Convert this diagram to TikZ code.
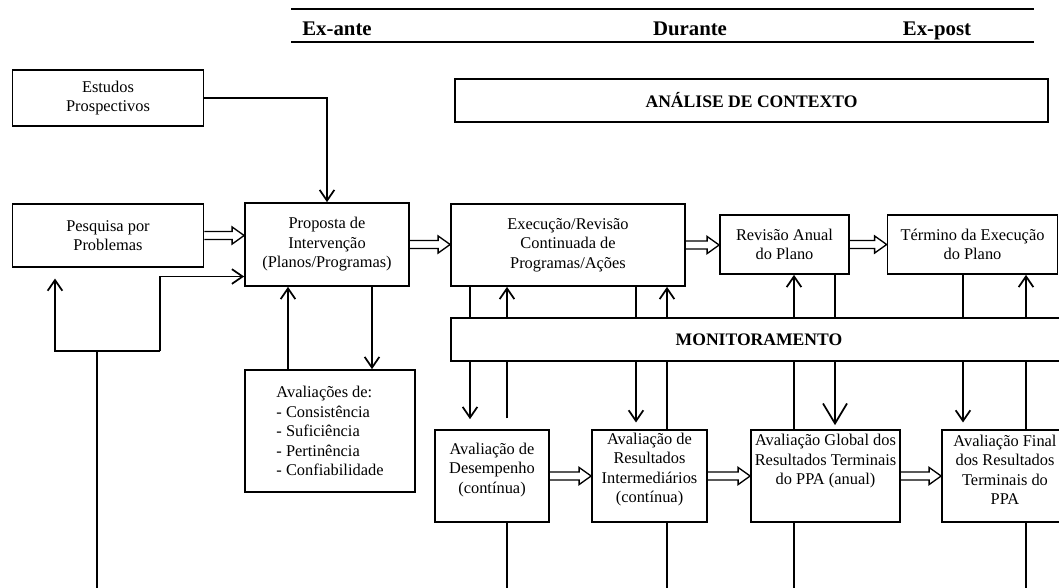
\documentclass[tikz,border=0pt]{standalone}
\usepackage{fontspec}
\setmainfont{Liberation Serif}
\usetikzlibrary{arrows.meta,calc}

\begin{document}
\begin{tikzpicture}[x=0.75pt, y=-0.75pt, line width=1.3pt,
	box/.style={rectangle, draw, align=center, inner sep=1pt, font=\fontsize{12.3}{14.6}\selectfont},
	title/.style={font=\fontsize{13.2}{15}\selectfont\bfseries},
	head/.style={font=\fontsize{15.6}{18}\selectfont\bfseries, anchor=base},
	arr/.style={-{Straight Barb[length=8pt, width=11pt]}},
	bigarr/.style={-{Straight Barb[length=15pt, width=18pt]}},
	hollow/.style={line width=1pt, to path={($(\tikztostart)+(0,3pt)$) -- ($(\tikztotarget |- \tikztostart)+(-9pt,3pt)$) -- ++(0,3.4pt) -- (\tikztotarget |- \tikztostart) -- ++(-9pt,-6.4pt) -- ++(0,3.4pt) -- ($(\tikztostart)+(0,-3pt)$)}}]
	\useasboundingbox (0,0) rectangle (1059,587);
	% Time line
	\draw[line width=1.5pt] (291,9) -- (1034,9);
	\draw[line width=1.5pt] (291,42) -- (1034,42);
	\node[head] (exante) at (337,35) {Ex-ante};
	\node[head] (durante) at (690,35) {Durante};
	\node[head] (expost) at (937,35) {Ex-post};
	% Place nodes
	\node[box, minimum width=143.25pt, minimum height=42pt] (est) at (108,98) {Estudos\\Prospectivos};
	\node[box, minimum width=143.25pt, minimum height=47.25pt] (pesq) at (108,235.5) {Pesquisa por\\Problemas};
	\node[box, minimum width=123pt, minimum height=62.25pt] (prop) at (327,244.5) {Proposta de\\Intervenção\\(Planos/Programas)};
	\node[box, minimum width=175.5pt, minimum height=61.5pt] (exec) at (568,245) {Execução/Revisão\\Continuada de\\Programas/Ações};
	\node[box, minimum width=96.75pt, minimum height=44.25pt] (rev) at (784.5,244.5) {Revisão Anual\\do Plano};
	\node[box, minimum width=127.5pt, minimum height=44.25pt] (term) at (972.5,244.5) {Término da Execução\\do Plano};
	\node[box, title, minimum width=444.75pt, minimum height=32.25pt] (ana) at (751.5,100.5) {ANÁLISE DE CONTEXTO};
	\node[box, align=left, minimum width=127.5pt, minimum height=91.5pt] (aval) at (330,431) {Avaliações de:\\- Consistência\\- Suficiência\\- Pertinência\\- Confiabilidade};
	\node[box, minimum width=86pt, minimum height=69pt, text depth=12pt] (des) at (492,476) {Avaliação de\\Desempenho\\(contínua)};
	\node[box, minimum width=86.25pt, minimum height=69pt, text depth=12pt] (inter) at (649.5,476) {Avaliação de\\Resultados\\Intermediários\\(contínua)};
	\node[box, minimum width=111.75pt, minimum height=69pt, text depth=25pt] (glob) at (825.5,476) {Avaliação Global dos\\Resultados Terminais\\do PPA (anual)};
	\node[box, minimum width=94.5pt, minimum height=69pt, text depth=9pt] (fin) at (1005,476) {Avaliação Final\\dos Resultados\\Terminais do\\PPA};
	% columns of the vertical links
	\coordinate (bot) at (0,592);
	\coordinate (a1) at (288,0);
	\coordinate (a2) at (372,0);
	\coordinate (e1) at (470,0);
	\coordinate (e2) at (507,0);
	\coordinate (e3) at (636,0);
	\coordinate (e4) at (667,0);
	\coordinate (r1) at (794,0);
	\coordinate (r2) at (835,0);
	\coordinate (t1) at (963,0);
	\coordinate (t2) at (1026,0);
	\coordinate (lpA) at (55,351);
	\coordinate (lpB) at (160,351);
	\coordinate (lpC) at (97,351);
	% Links
	\draw[arr] (est.east) -| (prop.north);
	\draw[hollow] (pesq.east) to (prop.west);
	\draw[hollow] (prop.east) to (exec.west);
	\draw[hollow] (exec.east) to (rev.west);
	\draw[hollow] (rev.east) to (term.west);
	\draw[hollow] (des.east) to (inter.west);
	\draw[hollow] (inter.east) to (glob.west);
	\draw[hollow] (glob.east) to (fin.west);
	\draw[arr] (a1 |- aval.north) -- (a1 |- prop.south);
	\draw[arr] (a2 |- prop.south) -- (a2 |- aval.north);
	\draw (lpC |- bot) -- (lpC);
	\draw[arr, shorten >=8pt] (lpB) -- (lpA) -- (lpA |- pesq.south);
	\draw[arr] (lpB) |- ([yshift=-24pt]prop.west);
	\draw[arr, shorten >=7.5pt] (e1 |- exec.south) -- (e1 |- des.north);
	\draw[arr, shorten <=8pt] (e2 |- des.north) -- (e2 |- exec.south);
	\draw (e2 |- bot) -- (e2 |- des.south);
	\draw[arr, shorten >=5pt] (e3 |- exec.south) -- (e3 |- inter.north);
	\draw[arr] (e4 |- inter.north) -- (e4 |- exec.south);
	\draw (e4 |- bot) -- (e4 |- inter.south);
	\draw[arr] (r1 |- glob.north) -- (r1 |- rev.south);
	\draw[bigarr, shorten >=3pt] (r2 |- rev.south) -- (r2 |- glob.north);
	\draw (r1 |- bot) -- (r1 |- glob.south);
	\draw[arr, shorten >=5pt] (t1 |- term.south) -- (t1 |- fin.north);
	\draw[arr] (t2 |- fin.north) -- (t2 |- term.south);
	\draw (t2 |- bot) -- (t2 |- fin.south);
	\node[box, title, fill=white, minimum width=462pt, minimum height=32.25pt] (mon) at (759,339.5) {MONITORAMENTO};
\end{tikzpicture}
\end{document}
